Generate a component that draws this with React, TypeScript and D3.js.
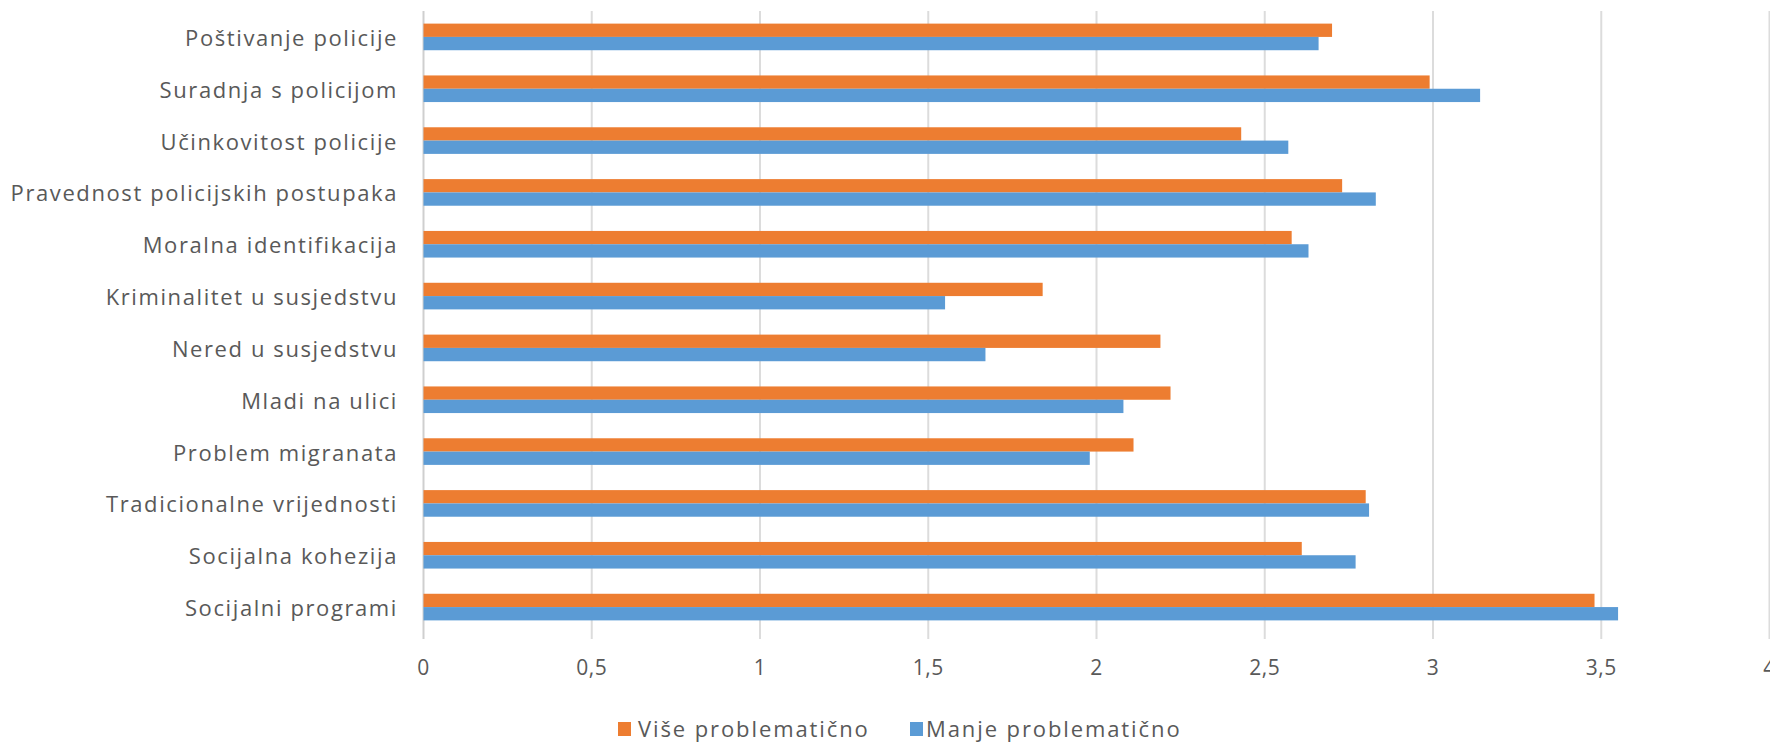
import React from 'react'
import * as d3 from 'd3'

const categories = [
    'Poštivanje policije',
    'Suradnja s policijom',
    'Učinkovitost policije',
    'Pravednost policijskih postupaka',
    'Moralna identifikacija',
    'Kriminalitet u susjedstvu',
    'Nered u susjedstvu',
    'Mladi na ulici',
    'Problem migranata',
    'Tradicionalne vrijednosti',
    'Socijalna kohezija',
    'Socijalni programi',
]
const seriesNames = ['Više problematično', 'Manje problematično']
const viseValues = [2.70, 2.99, 2.43, 2.73, 2.58, 1.84, 2.19, 2.22, 2.11, 2.80, 2.61, 3.48]
const manjeValues = [2.66, 3.14, 2.57, 2.83, 2.63, 1.55, 1.67, 2.08, 1.98, 2.81, 2.77, 3.55]
const xTicks = [0, 0.5, 1, 1.5, 2, 2.5, 3, 3.5, 4]

const seriesColors = ['#ED7D31', '#5B9BD5']
const fontFamily = "'Open Sans', 'Liberation Sans', sans-serif"
const textColor = '#595959'

const W = 1770
const H = 742
const plot = { left: 423.5, right: 1769.5, top: 11, bottom: 633 }

export default function App() {
    const x = d3.scaleLinear().domain([0, 4]).range([plot.left, plot.right])
    const y = d3.scaleBand<string>()
        .domain(categories)
        .range([plot.top, plot.bottom])
        .paddingInner(0.4865)
        .paddingOuter(0.4865 / 2)
    const ySub = d3.scaleBand<string>().domain(seriesNames).range([0, y.bandwidth()])
    const series = [viseValues, manjeValues]
    const fmt = (v: number) => String(v).replace('.', ',')

    return (
        <div style={{ position: 'fixed', left: 0, top: 0 }}>
            <svg width={W} height={H} style={{ display: 'block', background: 'white' }}>
                {/* gridlines, extended a little below the plot as tick marks */}
                {xTicks.map(t => (
                    <line key={'g' + t} x1={x(t)} x2={x(t)} y1={plot.top} y2={plot.bottom + 6}
                        stroke={t === 0 ? '#cfcfcf' : '#dcdcdc'} strokeWidth={2} />
                ))}

                {categories.map((c, i) => (
                    <g key={c} transform={`translate(0,${y(c)})`}>
                        {series.map((vals, s) => (
                            <rect key={s}
                                x={x(0)}
                                y={ySub(seriesNames[s])}
                                width={x(vals[i]) - x(0)}
                                height={ySub.bandwidth()}
                                fill={seriesColors[s]} />
                        ))}
                        <text x={398} y={y.bandwidth() / 2} textAnchor="end" dominantBaseline="central"
                            fontFamily={fontFamily} fontSize={22} letterSpacing={1.6} fill={textColor}>{c}</text>
                    </g>
                ))}

                {xTicks.map(t => (
                    <text key={'t' + t} x={x(t)} y={667} textAnchor="middle" dominantBaseline="central"
                        fontFamily={fontFamily} fontSize={21} letterSpacing={0.6} fill={textColor}>{fmt(t)}</text>
                ))}

                {/* legend */}
                {[{ sx: 618, tx: 638 }, { sx: 910, tx: 926 }].map((p, s) => (
                    <g key={'l' + s}>
                        <rect x={p.sx} y={722} width={13} height={14} fill={seriesColors[s]} />
                        <text x={p.tx} y={737} fontFamily={fontFamily} fontSize={22}
                            letterSpacing={1.9} fill={textColor}>{seriesNames[s]}</text>
                    </g>
                ))}
            </svg>
        </div>
    )
}
